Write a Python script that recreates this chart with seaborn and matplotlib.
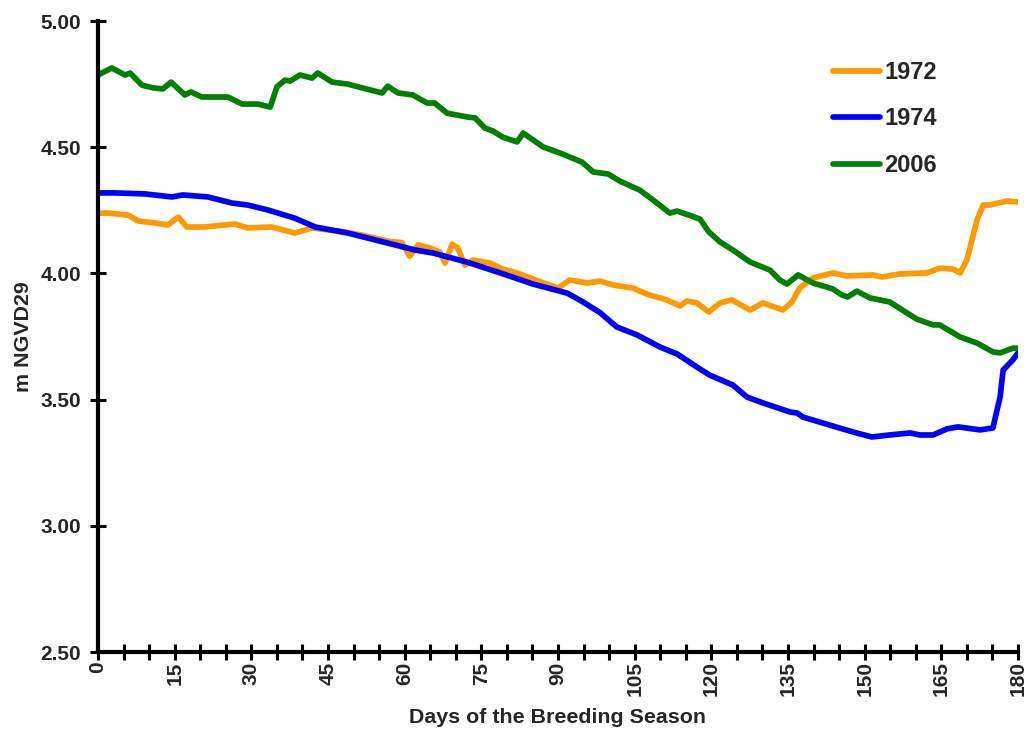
import pandas as pd
import seaborn as sns
import matplotlib.pyplot as plt
from matplotlib.ticker import MultipleLocator, FormatStrFormatter

# water stage
days_1972 = [0, 2, 5.9, 7.8, 11.2, 13.7, 15.7, 17.4, 20.9, 26.8, 29.3, 34, 38.5, 41.9, 48.3, 51.7,
             56.7, 59.5, 61, 62.6, 65, 66.9, 67.9, 69.3, 70.4, 71.8, 73.4, 76.7, 79.2, 82, 85.1,
             87.8, 90, 92.3, 95.7, 98.2, 100.8, 104.7, 107.4, 111.3, 113.9, 115.2, 117.2, 119.5,
             121.7, 124, 127.6, 130.1, 134, 135.8, 137.3, 139.9, 143.8, 146.5, 151.6, 153.4,
             156.9, 162.2, 164.7, 167.3, 168.7, 170, 172, 173.2, 174.5, 177.9, 180]
stage_1972 = [4.239, 4.239, 4.231, 4.208, 4.200, 4.192, 4.223, 4.184, 4.184, 4.196, 4.180, 4.184,
              4.160, 4.180, 4.164, 4.152, 4.128, 4.122, 4.068, 4.113, 4.101, 4.085, 4.041, 4.116,
              4.101, 4.033, 4.053, 4.041, 4.017, 4.002, 3.978, 3.958, 3.942, 3.974, 3.962, 3.970,
              3.954, 3.942, 3.918, 3.895, 3.871, 3.891, 3.883, 3.847, 3.883, 3.895, 3.855, 3.883,
              3.855, 3.887, 3.942, 3.982, 4.002, 3.990, 3.994, 3.986, 3.998, 4.002, 4.021, 4.017,
              4.002, 4.053, 4.212, 4.271, 4.271, 4.287, 4.283]

days_1974 = [0, 3.3, 9.2, 14.5, 16.6, 21.5, 26.2, 29.3, 33.3, 38.5, 42.5, 48.9, 52.8, 58.1, 62,
             65.5, 72.2, 78.7, 85.1, 91.8, 94.9, 98.2, 101.5, 105.5, 110, 113.3, 117.2, 119.7,
             124.2, 127, 130.1, 135.4, 136.8, 137.9, 143.2, 147.7, 151.4, 154.9, 158.9, 160.8,
             163.4, 166.1, 168.3, 172.6, 175.1, 176.5, 177.1, 179, 180]
stage_1974 = [4.319, 4.319, 4.315, 4.303, 4.311, 4.303, 4.279, 4.271, 4.251, 4.219, 4.184, 4.160,
              4.140, 4.113, 4.093, 4.081, 4.045, 4.002, 3.958, 3.922, 3.887, 3.845, 3.788, 3.756,
              3.708, 3.681, 3.629, 3.597, 3.558, 3.510, 3.487, 3.451, 3.447, 3.431, 3.399, 3.372,
              3.352, 3.360, 3.368, 3.360, 3.360, 3.384, 3.392, 3.380, 3.388, 3.510, 3.617, 3.657,
              3.685]

days_2006 = [0, 2.7, 5.3, 6.3, 8.6, 10.8, 12.7, 14.3, 17, 18.2, 20.3, 25.4, 28.2, 31.3, 33.7, 35,
             36.6, 37.6, 39.5, 41.9, 43, 45.8, 48.9, 51.7, 55.6, 56.7, 58.7, 61.6, 64.4, 65.9,
             68.3, 72.2, 73.8, 75.7, 77.3, 79.2, 82, 83.2, 87.1, 90.4, 94.7, 96.9, 99.8, 102.1,
             106, 108.6, 111.9, 113.3, 116.2, 117.8, 119.5, 121.7, 124.2, 127.6, 131.5, 133.4,
             134.8, 137, 139.9, 142.6, 143.8, 145.6, 146.7, 148.5, 151, 154.9, 158.3, 160.2,
             163.4, 164.7, 168.7, 172, 175.1, 176.5, 179, 180]
stage_2006 = [4.786, 4.814, 4.786, 4.794, 4.746, 4.735, 4.731, 4.758, 4.707, 4.719, 4.699, 4.699,
              4.671, 4.671, 4.659, 4.739, 4.766, 4.762, 4.786, 4.774, 4.794, 4.758, 4.750, 4.735,
              4.715, 4.742, 4.715, 4.707, 4.675, 4.675, 4.635, 4.620, 4.616, 4.576, 4.564, 4.540,
              4.521, 4.556, 4.501, 4.477, 4.441, 4.402, 4.394, 4.366, 4.330, 4.291, 4.239, 4.247,
              4.227, 4.215, 4.165, 4.125, 4.093, 4.045, 4.013, 3.974, 3.958, 3.994, 3.962, 3.946,
              3.938, 3.914, 3.907, 3.930, 3.903, 3.887, 3.843, 3.819, 3.796, 3.796, 3.748, 3.724,
              3.689, 3.685, 3.704, 3.704]

years = ['1972', '1974', '2006']
colors = ['#FF9900', '#0000FF', '#008000']

df = pd.concat([
    pd.DataFrame({'day': days_1972, 'stage': stage_1972, 'year': '1972'}),
    pd.DataFrame({'day': days_1974, 'stage': stage_1974, 'year': '1974'}),
    pd.DataFrame({'day': days_2006, 'stage': stage_2006, 'year': '2006'}),
])

sns.set_style('ticks')
plt.rcParams['font.family'] = ['Liberation Sans', 'DejaVu Sans']
plt.rcParams['font.weight'] = 'bold'

fig = plt.figure(figsize=(10.27, 7.30), dpi=100)
ax = fig.add_axes([0.0954, 0.1068, 0.8958, 0.8644])

sns.lineplot(data=df, x='day', y='stage', hue='year', hue_order=years,
             palette=colors, estimator=None, sort=False, linewidth=4.1, ax=ax)
for ln in ax.lines:
    ln.set_solid_capstyle('round')
    ln.set_solid_joinstyle('round')

ax.set_xlim(0, 180)
ax.set_ylim(2.5, 5.0)
ax.xaxis.set_major_locator(MultipleLocator(15))
ax.xaxis.set_minor_locator(MultipleLocator(5))
ax.yaxis.set_major_locator(MultipleLocator(0.5))
ax.yaxis.set_major_formatter(FormatStrFormatter('%.2f'))

sns.despine(ax=ax)
for s in ['left', 'bottom']:
    ax.spines[s].set_linewidth(3)
    ax.spines[s].set_color('black')

ax.tick_params(which='both', direction='inout', length=11.5, width=2.2, color='black')
ax.tick_params(axis='y', labelsize=15, pad=6.5)
ax.tick_params(axis='x', labelsize=15, pad=1, labelrotation=90)
for lab in ax.get_xticklabels() + ax.get_yticklabels():
    lab.set_fontweight('bold')

ax.set_xlabel('Days of the Breeding Season', fontsize=15.4, fontweight='bold', labelpad=8)
ax.set_ylabel('m NGVD29', fontsize=15.4, fontweight='bold', labelpad=5)

leg = ax.legend(loc='upper left', bbox_to_anchor=(0.799, 0.937), frameon=False,
                prop={'size': 17, 'weight': 'bold'}, handlelength=2.0, handletextpad=0.17,
                labelspacing=1.0, borderpad=0, borderaxespad=0)
for h in leg.get_lines():
    h.set_linewidth(4.1)
    h.set_solid_capstyle('round')

fig.savefig('out.png', dpi=100)
